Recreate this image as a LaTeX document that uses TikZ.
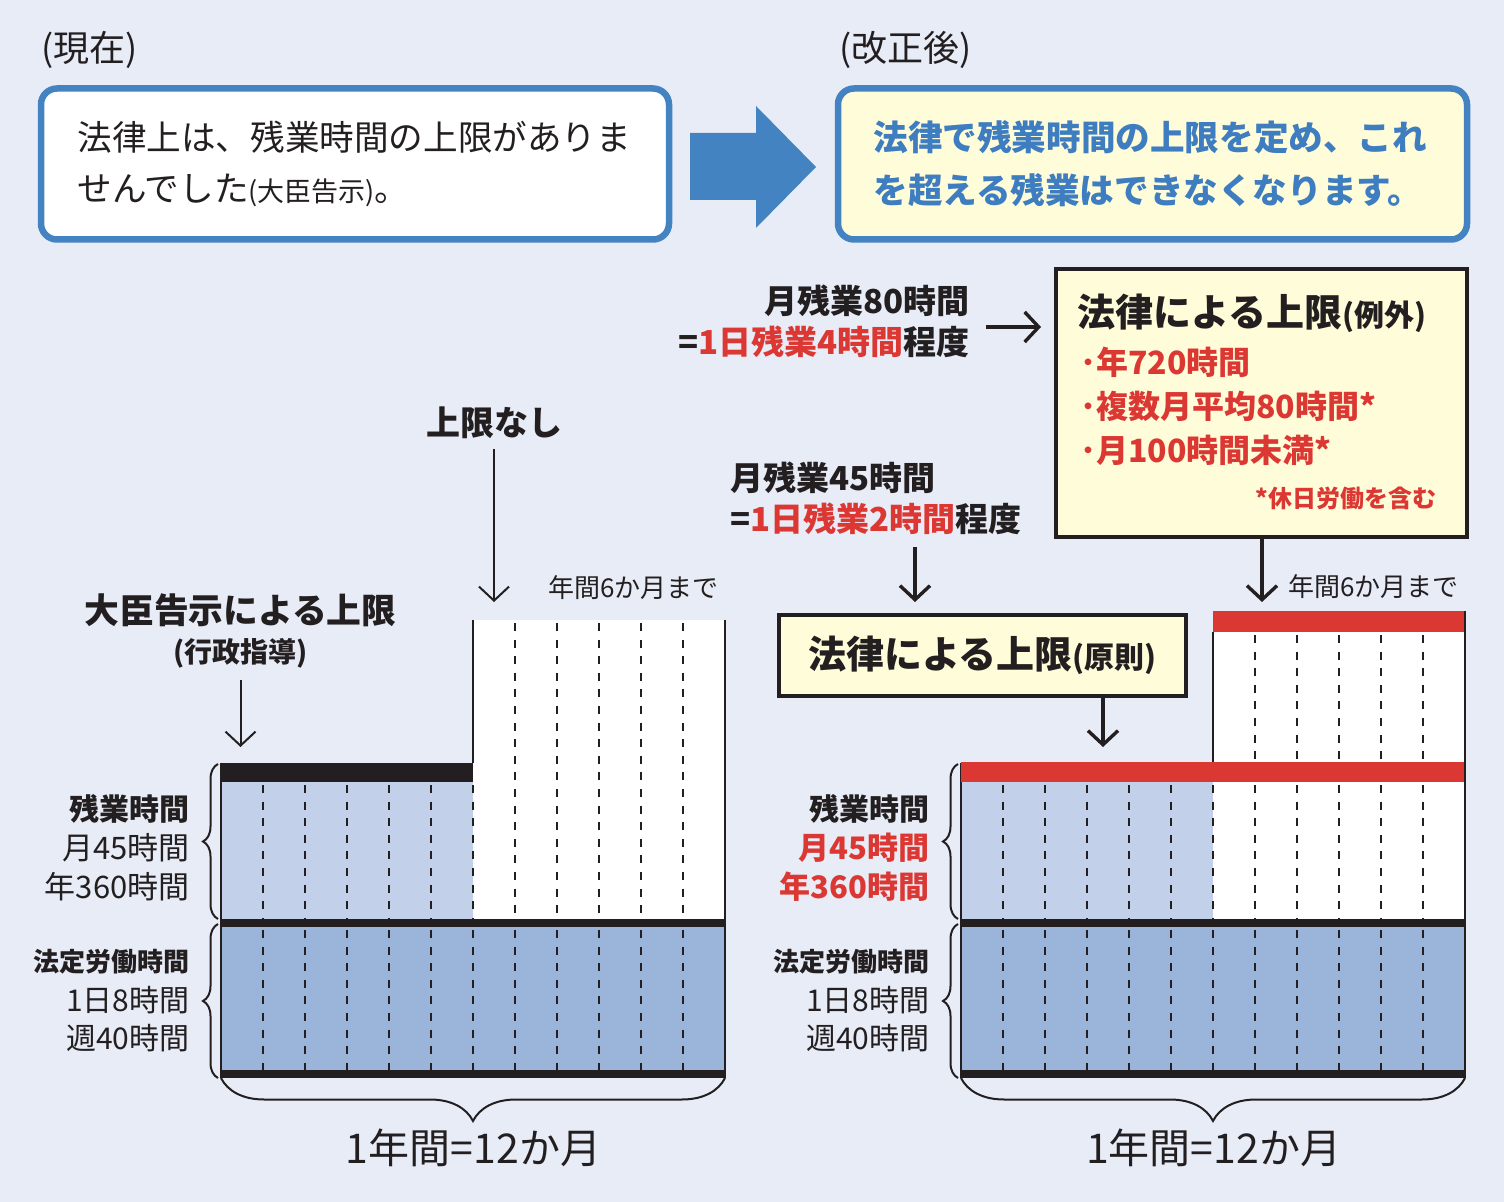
\documentclass[tikz,border=0pt]{standalone}
\usepackage{fontspec}
\setmainfont{Noto Sans CJK JP}
\usetikzlibrary{positioning,arrows.meta,decorations.pathreplacing}
\definecolor{bg}{HTML}{E8ECF7}
\definecolor{frameblue}{HTML}{4383C1}
\definecolor{txtblue}{HTML}{3D7DC0}
\definecolor{paleyellow}{HTML}{FFFCD9}
\definecolor{paleblue}{HTML}{C3D0EA}
\definecolor{midblue}{HTML}{9BB4DA}
\definecolor{capred}{HTML}{DC3833}
\definecolor{ink}{HTML}{231F20}
\newcommand\fsz[1]{\fontsize{#1}{#1}\selectfont}

\begin{document}
\begin{tikzpicture}[x=0.5pt,y=-0.5pt,>={Straight Barb[length=7pt,width=15pt]},
	every node/.style={inner sep=0pt,text=ink},
	monthline/.style={ink,line width=1.35pt,dash pattern=on 4pt off 4.3pt},
	rim/.style={ink,line width=1.3pt},
	curly/.style={ink,line width=1pt,decorate,decoration={brace,amplitude=#1}},
	pointer/.style={->,ink,line width=1pt},
	bigpointer/.style={->,ink,line width=1.7pt}]
	\fill[bg] (0,0) rectangle (1504,1202);
	\useasboundingbox (0,0) rectangle (1504,1202);

	\node[anchor=west,font=\fsz{18pt}] (Now) at (41,50) {(現在)};
	\node[anchor=west,font=\fsz{18pt}] (After) at (839,50) {(改正後)};

	\node[draw=frameblue,line width=3.25pt,rounded corners=8pt,fill=white,
		  minimum width=314pt,minimum height=75.5pt] (BoxNow) at (355,164) {};
	\node[anchor=west,font=\fsz{17.3pt}] (NowA) at (77,137) {法律上は、残業時間の上限がありま};
	\node[anchor=west,font=\fsz{17.3pt}] (NowB) at (77,190) {せんでした{\fsz{13.5pt}(大臣告示)}。};

	\node[draw=frameblue,line width=3.25pt,rounded corners=8pt,fill=paleyellow,
		  minimum width=314.5pt,minimum height=75.5pt] (BoxAfter) at (1152.5,164) {};
	\node[anchor=west,font=\fsz{17.3pt}\bfseries,text=txtblue] (AfterA) at (873,137) {法律で残業時間の上限を定め、これ};
	\node[anchor=west,font=\fsz{17.3pt}\bfseries,text=txtblue] (AfterB) at (873,190) {を超える残業はできなくなります。};

	\fill[frameblue] (690,133) -- (756,133) -- (756,106) -- (816,167)
		-- (756,228) -- (756,200) -- (690,200) -- cycle;

	\node[draw=ink,line width=2pt,fill=paleyellow,
		  minimum width=205.5pt,minimum height=134pt] (Ex) at (1261.5,403) {};
	\node[anchor=west,font=\fsz{19pt}\bfseries] (ExHead) at (1077,313) {法律による上限{\fsz{15pt}(例外)}};
	\node[anchor=west,font=\fsz{16pt}\bfseries,text=capred] (ExA) at (1080,362) {･年720時間};
	\node[anchor=west,font=\fsz{16pt}\bfseries,text=capred] (ExB) at (1080,406) {･複数月平均80時間*};
	\node[anchor=west,font=\fsz{16pt}\bfseries,text=capred] (ExC) at (1080,450) {･月100時間未満*};
	\node[anchor=east,font=\fsz{12pt}\bfseries,text=capred] (ExNote) at (1437,498) {*休日労働を含む};

	\node[anchor=east,font=\fsz{16.5pt}\bfseries] (M80a) at (970,301) {月残業80時間};
	\node[anchor=east,font=\fsz{16.5pt}\bfseries] (M80b) at (970,342) {=\textcolor{capred}{1日残業4時間}程度};
	\coordinate (M80s) at (986,327);
	\draw[bigpointer,shorten >=6.5pt] (M80s) -- (Ex.west |- M80s);

	\node[anchor=west,font=\fsz{16.5pt}\bfseries] (M45a) at (730,478) {月残業45時間};
	\node[anchor=west,font=\fsz{16.5pt}\bfseries] (M45b) at (730,519) {=\textcolor{capred}{1日残業2時間}程度};
	\coordinate (M45e) at (915,602);
	\draw[bigpointer,shorten <=6pt] (M45b.south -| M45e) -- (M45e);

	\node[draw=ink,line width=2pt,fill=paleyellow,minimum width=203.5pt,minimum height=40.5pt,
		  font=\fsz{19pt}\bfseries] (Gen) at (982.5,655.5) {法律による上限{\fsz{15pt}(原則)}};
	\coordinate (GenTip) at (1103,747);
	\draw[bigpointer] (Gen.south -| GenTip) -- (GenTip);
	\coordinate (ExTip) at (1262,602);
	\draw[bigpointer] (Ex.south -| ExTip) -- (ExTip);
	\node[anchor=west,font=\fsz{13pt}] (SixR) at (1288,587) {年間6か月まで};

	\node[font=\fsz{17pt}\bfseries] (NoCap) at (494,423) {上限なし};
	\coordinate (NoCapTip) at (494,602);
	\draw[pointer,shorten <=5pt] (NoCap) -- (NoCapTip);
	\node[anchor=west,font=\fsz{13pt}] (SixL) at (548,588) {年間6か月まで};
	\node[font=\fsz{17.4pt}\bfseries] (Notice) at (240.5,610) {大臣告示による上限};
	\node[font=\fsz{14pt}\bfseries] (Guide) at (240.5,653) {(行政指導)};
	\coordinate (GuideTip) at (240.5,747);
	\draw[pointer,shorten <=6pt] (Guide) -- (GuideTip);

	\foreach \ox/\c/\col/\wt in {0/L/ink/\mdseries,740/R/capred/\bfseries}{
	\begin{scope}[shift={(\ox,0)}]
		\fill[paleblue] (221,782) rectangle (473,920);
		\fill[white] (473,782) rectangle (725,920);
		\fill[midblue] (221,927) rectangle (725,1070);
		\fill[ink] (221,919) rectangle (725,927);
		\fill[ink] (221,1070) rectangle (725,1078);
		\foreach \i in {1,...,11}
			\draw[monthline] (221+42*\i,930) -- (221+42*\i,1070);
		\foreach \i in {1,...,6}
			\draw[monthline] (221+42*\i,785) -- (221+42*\i,920);
		\draw[rim] (221,763) -- (221,1078);
		\draw[curly=7.5pt] (218,919) -- (218,764);
		\draw[curly=7.5pt] (218,1078) -- (218,924);
		\draw[curly=21.5pt] (725,1078) -- (221,1078);
		\node[font=\fsz{20.5pt}] (Year\c) at (473.5,1148) {1年間=12か月};
		\node[anchor=east,font=\fsz{15pt}\bfseries] (OtHead\c) at (190,809) {残業時間};
		\node[anchor=east,font=\fsz{15.5pt}\wt,text=\col] (OtMonth\c) at (190,848) {月45時間};
		\node[anchor=east,font=\fsz{15.5pt}\wt,text=\col] (OtYear\c) at (190,887) {年360時間};
		\node[anchor=east,font=\fsz{13pt}\bfseries] (LawHead\c) at (190,962) {法定労働時間};
		\node[anchor=east,font=\fsz{15pt}] (LawDay\c) at (190,1000) {1日8時間};
		\node[anchor=east,font=\fsz{15pt}] (LawWeek\c) at (190,1038) {週40時間};
	\end{scope}}

	\fill[ink] (221,763) rectangle (473,782);
	\fill[white] (473,620) rectangle (725,782);
	\foreach \i in {7,...,11}
		\draw[monthline] (221+42*\i,623) -- (221+42*\i,920);
	\draw[rim] (473,620) -- (473,763);
	\draw[rim] (725,620) -- (725,1078);

	\fill[white] (1213,632) rectangle (1465,762);
	\fill[capred] (1213,611) rectangle (1465,632);
	\fill[capred] (961,762) rectangle (1465,782);
	\foreach \i in {7,...,11}{
		\draw[monthline] (961+42*\i,635) -- (961+42*\i,762);
		\draw[monthline] (961+42*\i,785) -- (961+42*\i,920);}
	\draw[rim] (1213,632) -- (1213,762);
	\draw[rim] (1465,611) -- (1465,1078);
\end{tikzpicture}
\end{document}
